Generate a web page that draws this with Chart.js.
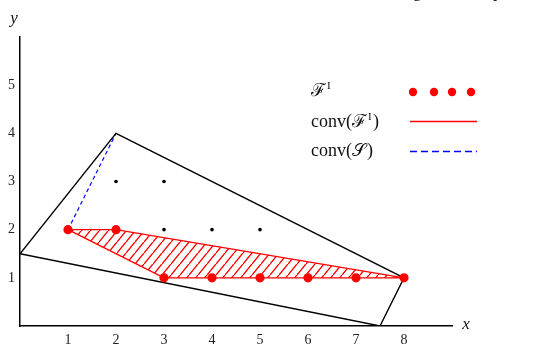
<!DOCTYPE html>
<html>
<head>
<meta charset="utf-8">
<script src="https://cdn.jsdelivr.net/npm/chart.js@4"></script>
<style>
  html, body { margin: 0; padding: 0; background: #fff; }
  #wrap { width: 548px; height: 344px; position: relative; }
</style>
</head>
<body>
<div id="wrap"><canvas id="c" width="548" height="344"></canvas></div>
<script>
// Integer points of the feasible set F^I
const feasibleX = [1, 2, 3, 4, 5, 6, 7, 8];
const feasibleY = [2, 2, 1, 1, 1, 1, 1, 1];
// Remaining integer points of S
const otherX = [2, 3, 3, 4, 5];
const otherY = [3, 3, 2, 2, 2];
// Vertices of the relaxation polytope (closed)
const polyX = [0, 2, 8, 7.5, 0];
const polyY = [1.5, 4, 1, 0, 1.5];
// Vertices of conv(F^I) (closed)
const hullX = [1, 2, 8, 3, 1];
const hullY = [2, 2, 1, 1, 2];
// Edge of conv(S) not shared with conv(F^I)
const convSX = [1, 2];
const convSY = [2, 4];
// Tick labels shown on the axes
const xTickLabels = [1, 2, 3, 4, 5, 6, 7, 8];
const yTickLabels = [1, 2, 3, 4, 5];

const pts = (xs, ys) => xs.map((x, i) => ({ x: x, y: ys[i] }));

// Diagonal red hatching
function hatchPattern() {
  const w = 9, h = 11;
  const t = document.createElement('canvas');
  t.width = w; t.height = h;
  const g = t.getContext('2d');
  g.strokeStyle = 'rgb(255,0,0)';
  g.lineWidth = 1.4;
  g.beginPath();
  g.moveTo(0, h); g.lineTo(w, 0);
  g.moveTo(-w, h); g.lineTo(0, 0);
  g.moveTo(w, 2 * h); g.lineTo(2 * w, h);
  g.stroke();
  return document.getElementById('c').getContext('2d').createPattern(t, 'repeat');
}

const serif = '"Liberation Serif", "DejaVu Serif", serif';

const annotations = {
  id: 'annotations',
  afterDraw(chart) {
    const ctx = chart.ctx;
    ctx.save();
    ctx.setLineDash([]);

    // legend samples
    ctx.fillStyle = 'rgb(255,0,0)';
    [413, 434, 452, 471].forEach(x => {
      ctx.beginPath(); ctx.arc(x, 92, 4.2, 0, Math.PI * 2); ctx.fill();
    });
    ctx.lineWidth = 1.3;
    ctx.strokeStyle = 'rgb(255,0,0)';
    ctx.beginPath(); ctx.moveTo(410, 121.5); ctx.lineTo(477, 121.5); ctx.stroke();
    ctx.strokeStyle = 'rgb(0,0,255)';
    ctx.setLineDash([7, 4]);
    ctx.beginPath(); ctx.moveTo(410, 151.5); ctx.lineTo(477, 151.5); ctx.stroke();
    ctx.setLineDash([]);

    // axis names
    ctx.fillStyle = '#111';
    ctx.font = 'italic 17px ' + serif;
    ctx.textAlign = 'center';
    ctx.textBaseline = 'middle';
    ctx.fillText('y', 14, 19);
    ctx.fillText('x', 466, 325);

    // caption line cut by the top edge
    ctx.font = '17px ' + serif;
    ctx.textAlign = 'left';
    ctx.textBaseline = 'alphabetic';
    ctx.fillText('g', 413, -3);
    ctx.fillText('p', 493, -3);

    // legend text
    ctx.textBaseline = 'middle';
    const big = '18px ' + serif;
    const sup = '11px ' + serif;
    const tx = 311;
    const rows = [91, 122, 151];
    // row 1: F^I
    ctx.font = big;
    ctx.fillText('\u2131', tx, rows[0]);
    const wF = ctx.measureText('\u2131').width;
    ctx.font = sup;
    ctx.fillText('I', tx + wF + 1, rows[0] - 5);
    // row 2: conv(F^I)
    ctx.font = big;
    const s = 'conv(\u2131';
    ctx.fillText(s, tx, rows[1]);
    const w2 = ctx.measureText(s).width;
    ctx.font = sup;
    ctx.fillText('I', tx + w2 + 1, rows[1] - 5);
    ctx.font = big;
    ctx.fillText(')', tx + w2 + 6, rows[1]);
    // row 3: conv(S)
    ctx.fillText('conv(', tx, rows[2]);
    const w3 = ctx.measureText('conv(').width;
    ctx.fillText('\u{1D4AE}', tx + w3, rows[2]);
    const wS = ctx.measureText('\u{1D4AE}').width;
    ctx.fillText(')', tx + w3 + wS + 1, rows[2]);
    ctx.restore();
  }
};

new Chart(document.getElementById('c'), {
  type: 'scatter',
  data: {
    datasets: [
      {
        label: 'conv(F^I)',
        data: pts(hullX, hullY),
        showLine: true,
        fill: 'shape',
        backgroundColor: hatchPattern(),
        borderColor: 'rgb(255,0,0)',
        borderWidth: 1.4,
        pointRadius: 0,
        tension: 0,
        order: 3
      },
      {
        label: 'relaxation',
        data: pts(polyX, polyY),
        showLine: true,
        fill: false,
        borderColor: '#000000',
        borderWidth: 1.4,
        pointRadius: 0,
        tension: 0,
        order: 2
      },
      {
        label: 'conv(S)',
        data: pts(convSX, convSY),
        showLine: true,
        fill: false,
        borderColor: 'rgb(0,0,255)',
        borderWidth: 1.2,
        borderDash: [4, 3],
        pointRadius: 0,
        order: 4
      },
      {
        label: 'S',
        data: pts(otherX, otherY),
        showLine: false,
        pointRadius: 1.8,
        pointBackgroundColor: '#000',
        pointBorderWidth: 0,
        order: 1
      },
      {
        label: 'F^I',
        data: pts(feasibleX, feasibleY),
        showLine: false,
        pointRadius: 4.6,
        pointBackgroundColor: 'rgb(255,0,0)',
        pointBorderWidth: 0,
        order: 0
      }
    ]
  },
  options: {
    responsive: false,
    animation: false,
    events: [],
    layout: { padding: { left: 0, top: 37, right: 96, bottom: 0 } },
    plugins: { legend: { display: false }, tooltip: { enabled: false } },
    scales: {
      x: {
        type: 'linear',
        min: 0, max: 9,
        grid: { display: false, drawTicks: false },
        border: { display: true, color: '#000', width: 1.5 },
        afterBuildTicks: (sc) => { sc.ticks = [0, ...xTickLabels, 9].map(v => ({ value: v })); },
        afterFit: (sc) => { sc.height = 18; },
        ticks: {
          autoSkip: false,
          maxRotation: 0,
          padding: 6,
          color: '#222',
          font: { family: serif, size: 14 },
          callback: (v) => xTickLabels.includes(v) ? String(v) : ''
        }
      },
      y: {
        type: 'linear',
        min: 0, max: 6,
        grid: { display: false, drawTicks: false },
        border: { display: true, color: '#000', width: 1.5 },
        afterBuildTicks: (sc) => { sc.ticks = [0, ...yTickLabels, 6].map(v => ({ value: v })); },
        afterFit: (sc) => { sc.width = 20; },
        ticks: {
          autoSkip: false,
          padding: 5,
          color: '#222',
          font: { family: serif, size: 14 },
          callback: (v) => yTickLabels.includes(v) ? String(v) : ''
        }
      }
    }
  },
  plugins: [annotations]
});
</script>
</body>
</html>
